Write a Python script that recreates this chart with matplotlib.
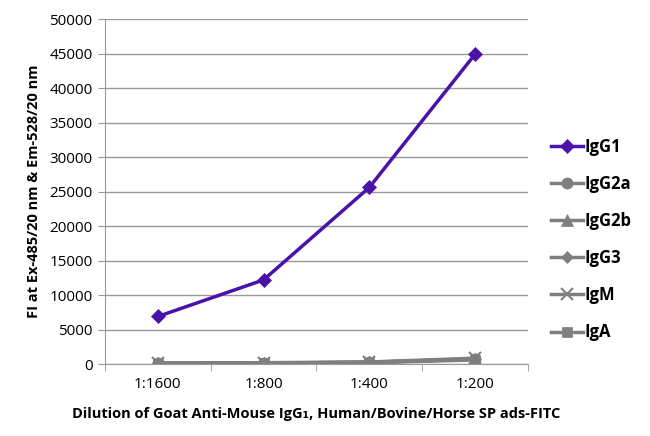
import matplotlib
matplotlib.use("Agg")
import matplotlib.pyplot as plt
import numpy as np

categories = ["1:1600", "1:800", "1:400", "1:200"]
igg1 = [6900, 12200, 25600, 44900]
igg2a = [100, 150, 250, 750]
igg2b = [100, 150, 250, 700]
igg3 = [100, 150, 250, 700]
igm = [150, 200, 300, 850]
iga = [50, 100, 200, 600]

series = [
    ("IgG1", igg1, "#4a12a8", "D", 7),
    ("IgG2a", igg2a, "#7f7f7f", "o", 8),
    ("IgG2b", igg2b, "#7f7f7f", "^", 8),
    ("IgG3", igg3, "#7f7f7f", "D", 6),
    ("IgM", igm, "#7f7f7f", "x", 8),
    ("IgA", iga, "#7f7f7f", "s", 7),
]

plt.rcParams['font.family'] = ['Open Sans', 'DejaVu Sans']

fig = plt.figure(figsize=(6.5, 4.36), dpi=100)
ax = fig.add_axes([0.1615, 0.165, 0.6505, 0.791])
x = np.arange(len(categories))
for name, vals, col, mk, ms in reversed(series):
    ax.plot(x, vals, color=col, marker=mk, markersize=ms, linewidth=2.5,
            label=name, markeredgewidth=1.5 if mk == "x" else 0.5,
            markeredgecolor=col)

ax.set_xlim(-0.5, 3.5)
ax.set_ylim(0, 50000)
ax.set_yticks(np.arange(0, 50001, 5000))
ax.set_yticklabels([str(v) for v in range(0, 50001, 5000)], fontsize=11)
ax.set_xticks(x)
ax.set_xticklabels(categories, fontsize=11)
ax.set_xticks(np.arange(-0.5, 4, 1), minor=True)
ax.tick_params(axis='x', which='major', length=0, pad=9)
ax.tick_params(axis='x', which='minor', length=5, color='#999999', direction='out')
ax.tick_params(axis='y', length=5, color='#999999', pad=4)
ax.grid(axis='y', color='#999999', linewidth=1)
ax.set_axisbelow(True)
for s in ['top', 'right']:
    ax.spines[s].set_visible(False)
ax.spines['left'].set_color('#999999')
ax.spines['bottom'].set_color('#999999')

ax.set_ylabel("FI at Ex-485/20 nm & Em-528/20 nm", fontsize=10.5, fontweight='bold', labelpad=6)
ax.set_xlabel("Dilution of Goat Anti-Mouse IgG\u2081, Human/Bovine/Horse SP ads-FITC",
              fontsize=10.5, fontweight='bold', labelpad=11)

handles, labels = ax.get_legend_handles_labels()
handles = handles[::-1]
labels = labels[::-1]
leg = ax.legend(handles, labels, loc='center left', bbox_to_anchor=(1.02, 0.361),
                frameon=False, handlelength=1.9, handletextpad=0.1,
                labelspacing=1.15, prop={'weight': 'bold', 'size': 12})

fig.savefig("out.png", dpi=100)
